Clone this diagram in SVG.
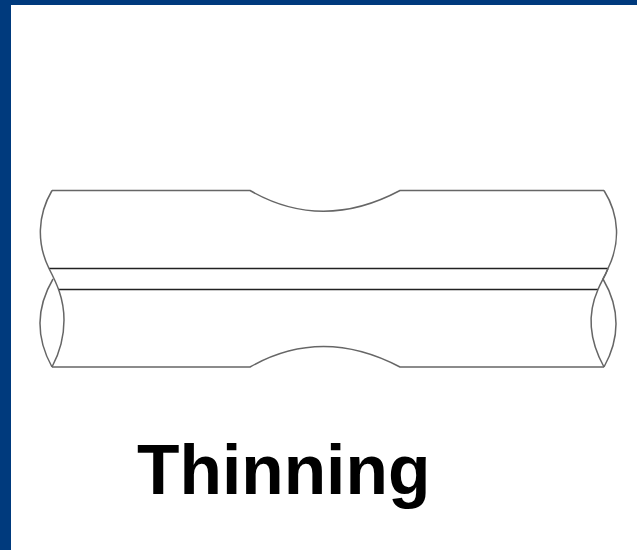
<svg xmlns="http://www.w3.org/2000/svg" width="637" height="550" viewBox="0 0 637 550">
<style>
.l{fill:none;stroke:#666;stroke-width:1.5}
.d{fill:none;stroke:#222;stroke-width:1.4}
.t{font-family:"Liberation Sans",Arial,sans-serif;font-weight:700;font-size:69.500px;fill:#000}
</style>
<rect width="637" height="550" fill="#fff"/>
<g id="frame"><rect width="637" height="5" fill="#003a7d"/><rect width="11" height="550" fill="#003a7d"/></g>
<g id="tube">
<path class="l" d="M52 190.500H250Q322 232 400 190.500H604"/>
<path class="l" d="M52 367H250Q322 326 400 367H604"/>
<path class="d" d="M49 268.500H608"/>
<path class="d" d="M58 289.500H598"/>
<path class="l" d="M52 190.500C37 216 37 244 49 268.500C56 282 64 298 64 320C64 338 59 354 52 367"/>
<path class="l" d="M52 367C36 338 36 308 53 279"/>
<path class="l" d="M604 190.500C620 216 620 244 608 268.500Q606 274 603 279C620 308 620 338 604 367"/>
<path class="l" d="M604 367C588 338 588 312 598 289.500C601 282 604 278 608 268.500"/>
</g>
<g id="label"><text class="t" x="137" y="494">Thinning</text></g>
</svg>
